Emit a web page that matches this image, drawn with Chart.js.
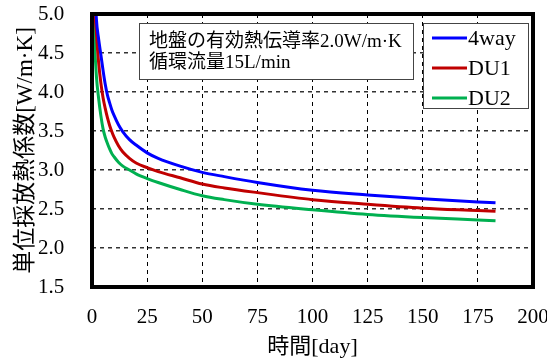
<!DOCTYPE html>
<html>
<head>
<meta charset="utf-8">
<script src="https://cdn.jsdelivr.net/npm/chart.js@4"></script>
<style>
  html, body { margin: 0; padding: 0; background: #fff; }
  #wrap { width: 547px; height: 362px; }
</style>
</head>
<body>
<div id="wrap"><canvas id="chart" width="547" height="362"></canvas></div>
<script>
// time in days and the heat extraction rate per unit length for each case
const days = [0.5, 1, 2, 3, 4, 5, 6, 7, 8, 9, 10, 12, 14, 17, 20, 25, 30, 40, 50, 60, 75, 100, 125, 150, 175, 183];
const way4 = [6.5, 5.6, 4.93, 4.68, 4.48, 4.28, 4.1, 3.96, 3.86, 3.77, 3.7, 3.58, 3.49, 3.39, 3.32, 3.22, 3.15, 3.05, 2.97, 2.915, 2.84, 2.74, 2.68, 2.63, 2.59, 2.58];
const du1 = [5.9, 5.25, 4.75, 4.38, 4.12, 3.93, 3.79, 3.67, 3.57, 3.49, 3.42, 3.31, 3.23, 3.15, 3.09, 3.03, 2.98, 2.9, 2.82, 2.77, 2.71, 2.62, 2.56, 2.51, 2.48, 2.47];
const du2 = [5.3, 4.75, 4.2, 3.92, 3.7, 3.53, 3.42, 3.34, 3.27, 3.21, 3.17, 3.1, 3.05, 3.0, 2.95, 2.89, 2.84, 2.75, 2.67, 2.62, 2.56, 2.49, 2.43, 2.39, 2.36, 2.35];

const seriesNames = ["4way", "DU1", "DU2"];
const seriesColors = ["#0000ff", "#c00000", "#00b050"];
const noteLines = ["地盤の有効熱伝導率2.0W/m·K", "循環流量15L/min"];

const FONT = '"Liberation Serif", "Noto Sans CJK JP", serif';

function points(values) {
  return days.map((d, i) => ({ x: d, y: values[i] }));
}

// thick frame, note box and legend drawn over the plot
const framePlugin = {
  id: "frame",
  afterDraw(chart) {
    const { ctx, chartArea: a } = chart;
    ctx.save();

    ctx.lineWidth = 4;
    ctx.strokeStyle = "#000";
    ctx.strokeRect(a.left, a.top, a.right - a.left, a.bottom - a.top);

    // note box
    ctx.fillStyle = "#fff";
    ctx.fillRect(139, 23, 274, 56);
    ctx.lineWidth = 1;
    ctx.strokeStyle = "#444";
    ctx.strokeRect(139.5, 23.5, 274, 56);
    ctx.fillStyle = "#000";
    ctx.font = "19px " + FONT;
    ctx.textBaseline = "middle";
    ctx.textAlign = "left";
    noteLines.forEach((t, i) => ctx.fillText(t, 149, 42 + i * 21));

    // legend
    ctx.fillStyle = "#fff";
    ctx.fillRect(423, 23, 105, 85);
    ctx.strokeStyle = "#444";
    ctx.strokeRect(423.5, 23.5, 105, 85);
    ctx.font = "22px " + FONT;
    seriesNames.forEach((name, i) => {
      const y = 38 + i * 30;
      ctx.strokeStyle = seriesColors[i];
      ctx.lineWidth = 3;
      ctx.beginPath();
      ctx.moveTo(432, y);
      ctx.lineTo(467, y);
      ctx.stroke();
      ctx.fillStyle = "#000";
      ctx.fillText(name, 468, y + 1);
    });

    ctx.restore();
  },
};

document.addEventListener("DOMContentLoaded", () => {
  const datasets = [way4, du1, du2].map((vals, i) => ({
    label: seriesNames[i],
    data: points(vals),
    borderColor: seriesColors[i],
    borderWidth: 3,
    pointRadius: 0,
    fill: false,
    cubicInterpolationMode: "monotone",
  }));

  new Chart(document.getElementById("chart"), {
    type: "line",
    data: { datasets },
    plugins: [framePlugin],
    options: {
      responsive: false,
      animation: false,
      events: [],
      layout: { padding: { top: 14, right: 14, left: 0, bottom: 0 } },
      plugins: { legend: { display: false }, tooltip: { enabled: false } },
      scales: {
        x: {
          type: "linear",
          min: 0,
          max: 200,
          afterFit(s) {
            s.height = 75;
            s.paddingRight = 0;
          },
          ticks: {
            stepSize: 25,
            padding: 18,
            color: "#000",
            font: { family: FONT, size: 21 },
            maxRotation: 0,
          },
          grid: { color: "#000", lineWidth: 1, drawTicks: false },
          border: { display: false, dash: [4, 4] },
          title: {
            display: true,
            text: "時間[day]",
            color: "#000",
            font: { family: FONT, size: 22 },
            padding: { top: 0, bottom: 2 },
          },
        },
        y: {
          min: 1.5,
          max: 5.0,
          afterFit(s) { s.width = 92; },
          ticks: {
            stepSize: 0.5,
            // mirrored labels pulled back left of the plot, so the
            // tick padding does not push the plot top down
            mirror: true,
            padding: -54,
            color: "#000",
            font: { family: FONT, size: 21 },
            callback: (v) => v.toFixed(1),
          },
          grid: { color: "#333", lineWidth: 1.5, drawTicks: false },
          border: { display: false, dash: [4, 4] },
          title: {
            display: true,
            text: "単位採放熱係数[W/m·K]",
            color: "#000",
            font: { family: FONT, size: 23 },
            padding: { top: 12, bottom: 0 },
          },
        },
      },
    },
  });
});
</script>
</body>
</html>
